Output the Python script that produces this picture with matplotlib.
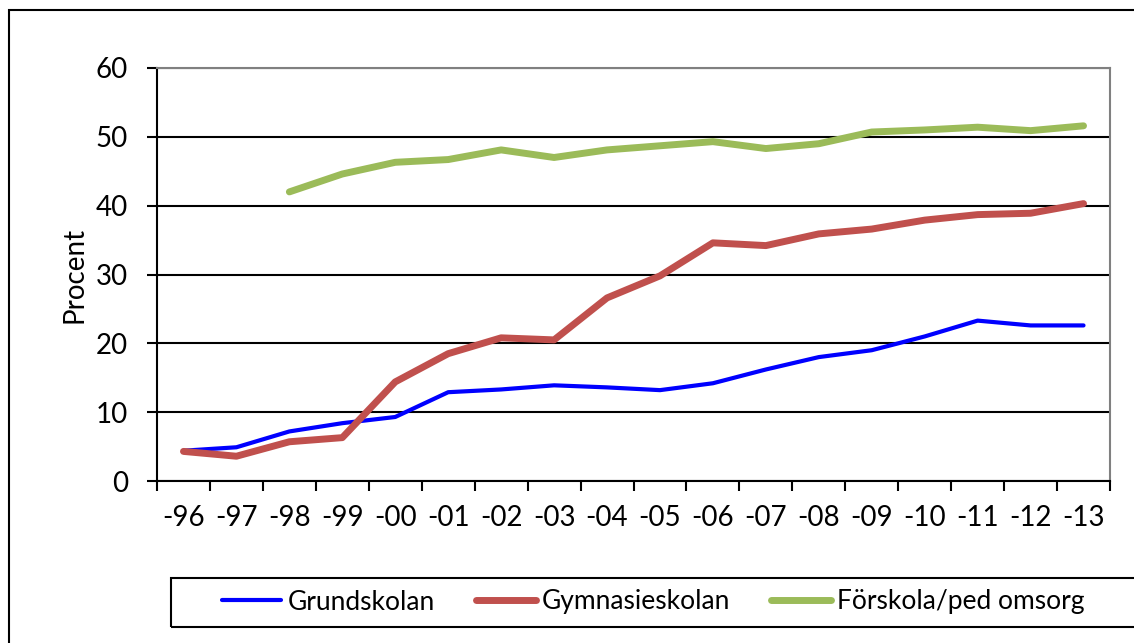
import matplotlib
matplotlib.use("Agg")
import matplotlib.pyplot as plt
from matplotlib.patches import Rectangle
import numpy as np

years = ["-96", "-97", "-98", "-99", "-00", "-01", "-02", "-03", "-04",
         "-05", "-06", "-07", "-08", "-09", "-10", "-11", "-12", "-13"]

grundskolan = [4.4, 4.9, 7.2, 8.4, 9.3, 12.9, 13.3, 13.9, 13.6,
               13.2, 14.2, 16.2, 18.0, 19.0, 21.0, 23.3, 22.6, 22.6]
gymnasieskolan = [4.3, 3.6, 5.7, 6.3, 14.4, 18.5, 20.8, 20.5, 26.6,
                  29.8, 34.6, 34.2, 35.9, 36.6, 37.9, 38.7, 38.9, 40.3]
forskola = [np.nan, np.nan, 42.0, 44.6, 46.3, 46.7, 48.1, 47.0, 48.1,
            48.7, 49.3, 48.3, 49.0, 50.7, 51.0, 51.4, 50.9, 51.6]

plt.rcParams["font.family"] = ["Lato", "DejaVu Sans"]
FS = 20

W, H = 1134, 643
fig = plt.figure(figsize=(W / 100, H / 100), dpi=100)
ax = fig.add_axes([157 / W, 1 - 481 / H, (1110 - 157) / W, (481 - 68) / H])

x = np.arange(len(years))
ax.plot(x, grundskolan, color="#0000FF", lw=3, solid_capstyle="round", label="Grundskolan")
ax.plot(x, gymnasieskolan, color="#C0504D", lw=5, solid_capstyle="round", label="Gymnasieskolan")
ax.plot(x, forskola, color="#9BBB59", lw=5, solid_capstyle="round", label="Förskola/ped omsorg")

ax.set_xlim(-0.5, len(years) - 0.5)
ax.set_ylim(0, 60)
ax.set_yticks(range(0, 61, 10))
ax.set_xticks(x)
ax.set_xticklabels(years)
ax.set_xticks(np.arange(-0.5, len(years), 1), minor=True)
ax.tick_params(axis="x", which="major", length=0, pad=17, labelsize=FS)
ax.tick_params(axis="x", which="minor", length=7, width=1.5, direction="out", color="black")
ax.tick_params(axis="y", length=7, width=1.5, direction="out", pad=14, labelsize=FS)

ax.grid(axis="y", color="black", lw=1.5)
ax.set_axisbelow(True)
for side in ("left", "bottom"):
    ax.spines[side].set_color("black")
    ax.spines[side].set_linewidth(1.5)
for side in ("top", "right"):
    ax.spines[side].set_color("#808080")
    ax.spines[side].set_linewidth(1.5)

ax.set_ylabel("Procent", fontsize=FS, labelpad=6)

# outer chart border
fig.add_artist(Rectangle((9 / W, -0.1), 1.2, 1 - 10 / H + 0.1, transform=fig.transFigure,
                         fill=False, edgecolor="black", lw=1.5))
# legend box
fig.add_artist(Rectangle((171 / W, 1 - 627 / H), 1.2, 49 / H, transform=fig.transFigure,
                         fill=False, edgecolor="black", lw=1.5))
fig.legend(loc="center left", bbox_to_anchor=(222 / W, 1 - 602 / H), ncol=3,
           frameon=False, fontsize=19, handlelength=2.25, handletextpad=0.25,
           columnspacing=1.55, borderaxespad=0, borderpad=0)

fig.savefig("out.png", dpi=100)
